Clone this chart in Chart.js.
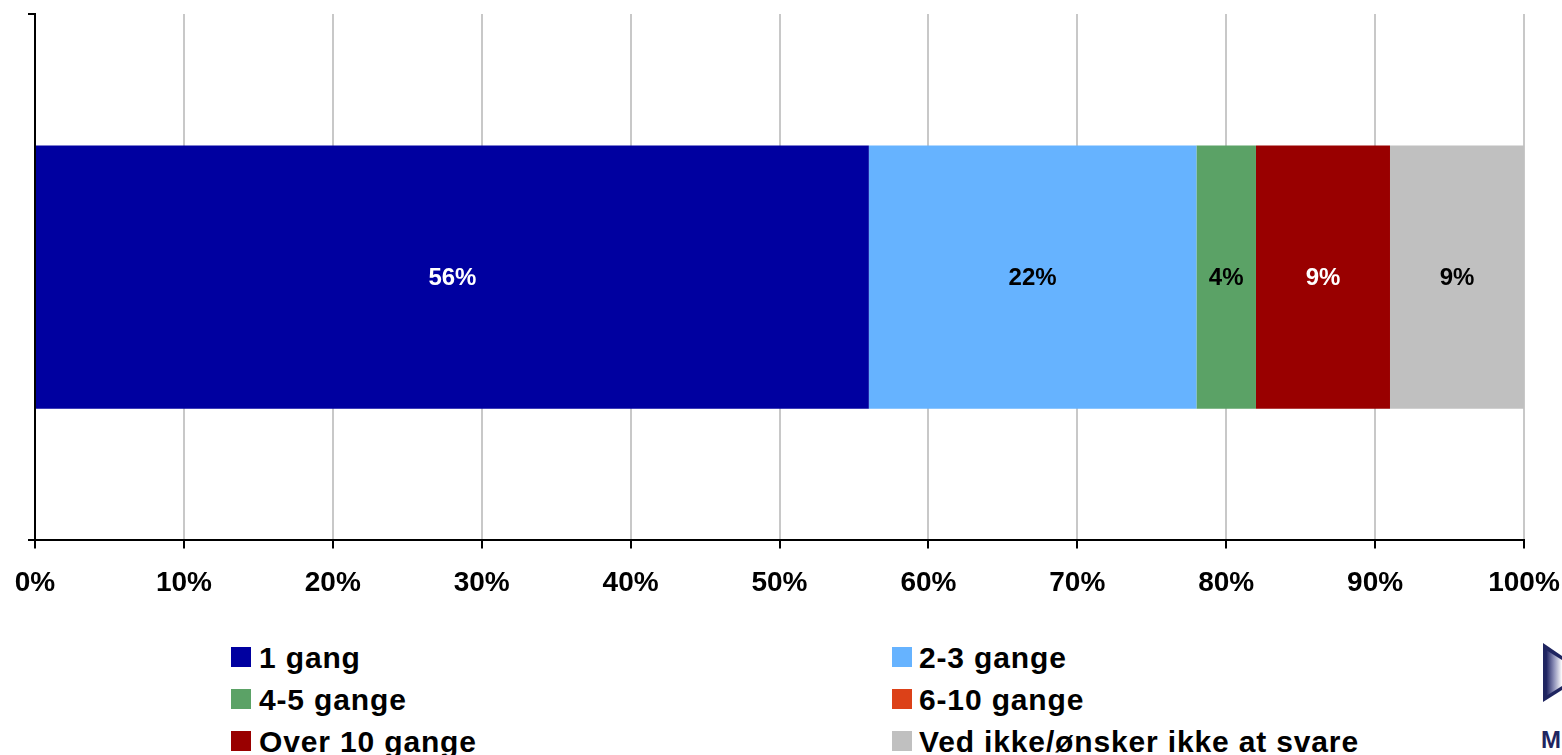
<!DOCTYPE html>
<html>
<head>
<meta charset="utf-8">
<script src="https://cdn.jsdelivr.net/npm/chart.js@4/dist/chart.umd.min.js"></script>
<style>
  html, body { margin: 0; padding: 0; background: #fff; }
  body { width: 1562px; height: 755px; position: relative; overflow: hidden; font-family: "Liberation Sans", Arial, sans-serif; }
  #wrap { position: absolute; left: 0; top: 0; width: 1562px; height: 618px; }
  .leg { position: absolute; font-weight: bold; font-size: 30px; letter-spacing: 0.85px; color: #000; line-height: 30px; white-space: nowrap; }
  .sw { position: absolute; width: 20px; height: 20px; }
  #logo { position: absolute; left: 1530px; top: 630px; }
</style>
</head>
<body>
<div id="wrap"><canvas id="c"></canvas></div>
<div id="legend"></div>
<svg id="logo" width="32" height="125" viewBox="0 0 32 125">
  <defs>
    <linearGradient id="lg" x1="0" y1="0" x2="1" y2="0">
      <stop offset="0" stop-color="#1a1f5e"/>
      <stop offset="0.5" stop-color="#8d90b8"/>
      <stop offset="1" stop-color="#ffffff"/>
    </linearGradient>
  </defs>
  <polygon points="13,13 32,26 32,60 13,72" fill="#1f2560"/>
  <polygon points="16,20 32,30 32,56 16,66" fill="url(#lg)"/>
  <text x="11" y="118" font-family="Liberation Sans, Arial" font-weight="bold" font-size="24" fill="#1f2560">M</text>
</svg>
<script>
const categories = [""];
const seriesNames = ["1 gang", "2-3 gange", "4-5 gange", "6-10 gange", "Over 10 gange", "Ved ikke/ønsker ikke at svare"];
const v1gang = [56];
const v23 = [22];
const v45 = [4];
const v610 = [0];
const vOver10 = [9];
const vVedIkke = [9];
const tickValues = [0, 10, 20, 30, 40, 50, 60, 70, 80, 90, 100];
const colors = ["#0000A0", "#66B3FF", "#5BA266", "#DC4118", "#990000", "#C0C0C0"];
const labelColors = ["#FFFFFF", "#000000", "#000000", "#FFFFFF", "#FFFFFF", "#000000"];

const allValues = [v1gang, v23, v45, v610, vOver10, vVedIkke];

const datasets = seriesNames.map((n, i) => ({
  label: n,
  data: allValues[i],
  backgroundColor: colors[i],
  borderWidth: 0,
  barPercentage: 1,
  categoryPercentage: 0.5
}));

const labelPlugin = {
  id: 'barLabels',
  afterDatasetsDraw(chart) {
    const ctx = chart.ctx;
    ctx.save();
    ctx.font = 'bold 24px "Liberation Sans", Arial, sans-serif';
    ctx.textAlign = 'center';
    ctx.textBaseline = 'middle';
    chart.data.datasets.forEach((ds, i) => {
      const meta = chart.getDatasetMeta(i);
      meta.data.forEach((el, j) => {
        const v = ds.data[j];
        if (!v) return;
        const p = el.getProps(['x', 'y', 'base'], true);
        ctx.fillStyle = labelColors[i];
        ctx.fillText(v + '%', (p.x + p.base) / 2, p.y + 1);
      });
    });
    ctx.restore();
  }
};

new Chart(document.getElementById('c'), {
  type: 'bar',
  data: { labels: categories, datasets },
  plugins: [labelPlugin],
  options: {
    indexAxis: 'y',
    responsive: true,
    maintainAspectRatio: false,
    animation: false,
    layout: { padding: { left: 28, right: 38, top: 14, bottom: 0 } },
    plugins: { legend: { display: false }, tooltip: { enabled: false } },
    scales: {
      x: {
        stacked: true,
        min: 0, max: 100,
        afterBuildTicks(scale) { scale.ticks = tickValues.map(v => ({ value: v })); },
        afterFit(scale) { scale.paddingLeft = 0; scale.paddingRight = 0; },
        ticks: {
          callback: v => v + '%',
          color: '#000',
          font: { family: '"Liberation Sans", Arial, sans-serif', size: 28, weight: 'bold' },
          padding: 18,
          maxRotation: 0,
          autoSkip: false
        },
        grid: { color: '#C8C8C8', lineWidth: 2, tickColor: '#000', tickLength: 8, drawTicks: true },
        border: { color: '#000', width: 2 }
      },
      y: {
        stacked: true,
        ticks: { display: false },
        grid: { display: true, drawOnChartArea: false, drawTicks: true, tickLength: 7, color: '#000', tickColor: '#000', lineWidth: 2, offset: true },
        border: { color: '#000', width: 2 }
      }
    }
  }
});

// HTML legend
const legendPos = [
  { sx: 231, tx: 259, y: 647 },
  { sx: 892, tx: 919, y: 647 },
  { sx: 231, tx: 259, y: 689 },
  { sx: 892, tx: 919, y: 689 },
  { sx: 231, tx: 259, y: 731 },
  { sx: 892, tx: 919, y: 731 }
];
const leg = document.getElementById('legend');
seriesNames.forEach((n, i) => {
  const p = legendPos[i];
  const s = document.createElement('div');
  s.className = 'sw';
  s.style.left = p.sx + 'px';
  s.style.top = p.y + 'px';
  s.style.background = colors[i];
  leg.appendChild(s);
  const t = document.createElement('div');
  t.className = 'leg';
  t.style.left = p.tx + 'px';
  t.style.top = (p.y - 4) + 'px';
  t.textContent = n;
  leg.appendChild(t);
});
</script>
</body>
</html>
